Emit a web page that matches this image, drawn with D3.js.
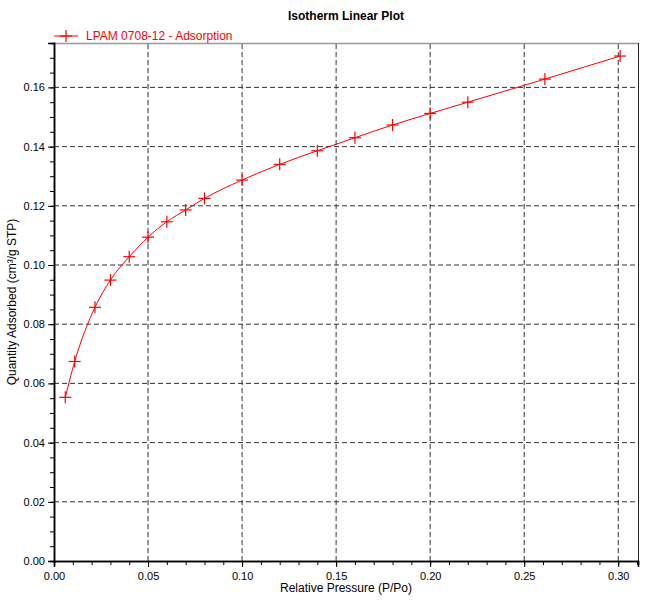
<!DOCTYPE html>
<html lang="en">
  <head>
    <meta charset="UTF-8" />
    <title>Isotherm Linear Plot</title>
    <script src="https://d3js.org/d3.v7.min.js"></script>
    <style>
      body {
        margin: 0;
        background: #fff;
        font-family: "Liberation Sans", Arial, sans-serif;
      }
    </style>
  </head>
  <body>
    <div id="chart"></div>
    <script>
      // data
      const pressure = [0.006, 0.011, 0.0218, 0.030, 0.040, 0.050, 0.060, 0.070, 0.080,
        0.100, 0.120, 0.140, 0.160, 0.180, 0.200, 0.220, 0.261, 0.301];
      const adsorbed = [0.0553, 0.0674, 0.0857, 0.0949, 0.1028, 0.1094, 0.1146, 0.1186, 0.1225,
        0.1287, 0.1340, 0.1386, 0.1430, 0.1473, 0.1512, 0.1550, 0.1628, 0.1706];
      const xTicks = [0, 0.05, 0.10, 0.15, 0.20, 0.25, 0.30];
      const yTicks = [0, 0.02, 0.04, 0.06, 0.08, 0.10, 0.12, 0.14, 0.16];
      const seriesName = "LPAM 0708-12 - Adsorption";

      const width = 650, height = 601;
      const margin = { top: 43, right: 12, bottom: 40, left: 54 };
      const red = "#ff0000";

      const svg = d3.select("#chart").append("svg")
        .attr("width", width).attr("height", height)
        .style("font-family", "'Liberation Sans', Arial, sans-serif");

      const x = d3.scaleLinear().domain([0, 0.3105]).range([margin.left, width - margin.right]);
      const y = d3.scaleLinear().domain([0, 0.175]).range([height - margin.bottom, margin.top]);

      // grid
      svg.append("g").selectAll("line").data(xTicks.filter(d => d > 0)).join("line")
        .attr("x1", d => x(d)).attr("x2", d => x(d))
        .attr("y1", y(0)).attr("y2", margin.top)
        .attr("stroke", "#333").attr("stroke-width", 1).attr("stroke-dasharray", "5,3");
      svg.append("g").selectAll("line").data(yTicks.filter(d => d > 0)).join("line")
        .attr("x1", x(0)).attr("x2", width - margin.right)
        .attr("y1", d => y(d)).attr("y2", d => y(d))
        .attr("stroke", "#333").attr("stroke-width", 1).attr("stroke-dasharray", "5,3");

      // frame
      svg.append("line").attr("x1", x(0)).attr("x2", width - margin.right)
        .attr("y1", margin.top + 0.5).attr("y2", margin.top + 0.5)
        .attr("stroke", "#999").attr("stroke-width", 1.5);
      svg.append("line").attr("x1", width - margin.right + 0.5).attr("x2", width - margin.right + 0.5)
        .attr("y1", margin.top).attr("y2", y(0))
        .attr("stroke", "#222").attr("stroke-width", 1);

      // axes
      const xMinor = d3.range(0, 0.311, 0.01);
      const yMinor = d3.range(0, 0.1751, 0.005);
      const xAxis = svg.append("g").attr("transform", `translate(0,${y(0)})`)
        .call(d3.axisBottom(x).tickValues(xMinor).tickSize(4).tickFormat(""));
      xAxis.append("g").call(d3.axisBottom(x).tickValues(xTicks).tickSize(6).tickFormat(d3.format(".2f")));
      const yAxis = svg.append("g").attr("transform", `translate(${x(0)},0)`)
        .call(d3.axisLeft(y).tickValues(yMinor).tickSize(4).tickFormat(""));
      yAxis.append("g").call(d3.axisLeft(y).tickValues(yTicks).tickSize(6).tickFormat(d3.format(".2f")));
      svg.selectAll(".domain").attr("stroke", "#000").attr("stroke-width", 1.5);
      svg.selectAll(".tick line").attr("stroke", "#000");
      svg.selectAll(".tick text").attr("font-size", 11).attr("fill", "#000")
        .attr("font-family", "'Liberation Sans', Arial, sans-serif");
      xAxis.selectAll(".tick text").attr("dy", "0.9em");

      // curve
      const pts = pressure.map((p, i) => [p, adsorbed[i]]);
      svg.append("path").datum(pts)
        .attr("fill", "none").attr("stroke", red).attr("stroke-width", 1)
        .attr("d", d3.line().x(d => x(d[0])).y(d => y(d[1])).curve(d3.curveMonotoneX));

      const plus = (g, cx, cy) => {
        g.append("line").attr("x1", cx - 6).attr("x2", cx + 6).attr("y1", cy).attr("y2", cy);
        g.append("line").attr("x1", cx).attr("x2", cx).attr("y1", cy - 6).attr("y2", cy + 6);
      };
      const marks = svg.append("g").attr("stroke", red).attr("stroke-width", 1.2);
      pts.forEach(d => plus(marks, x(d[0]), y(d[1])));

      // legend
      const leg = svg.append("g").attr("stroke", red).attr("stroke-width", 1.2);
      leg.append("line").attr("x1", 54).attr("x2", 78).attr("y1", 36).attr("y2", 36).attr("stroke-width", 1);
      plus(leg, 66, 36);
      svg.append("text").attr("x", 86).attr("y", 40).attr("fill", red)
        .attr("font-size", 12).text(seriesName);

      // title and axis titles
      svg.append("text").attr("x", 346).attr("y", 20).attr("text-anchor", "middle")
        .attr("font-size", 12).attr("font-weight", "bold").text("Isotherm Linear Plot");
      svg.append("text").attr("x", (x(0) + width - margin.right) / 2).attr("y", 592)
        .attr("text-anchor", "middle").attr("font-size", 12).text("Relative Pressure (P/Po)");
      svg.append("text").attr("transform", `translate(16,${(margin.top + y(0)) / 2}) rotate(-90)`)
        .attr("text-anchor", "middle").attr("font-size", 12).text("Quantity Adsorbed (cm³/g STP)");
    </script>
  </body>
</html>
